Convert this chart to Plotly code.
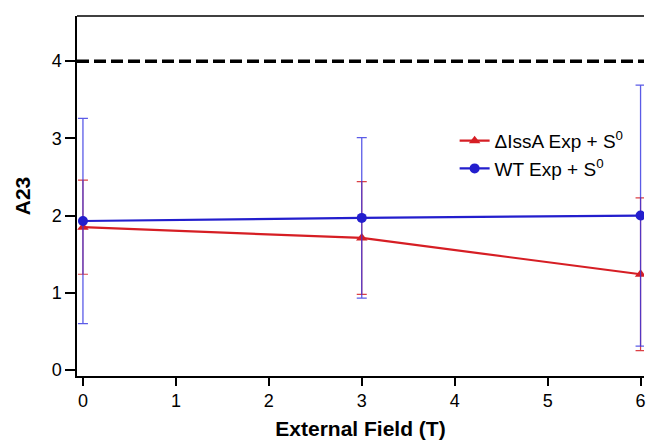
import plotly.graph_objects as go

# External field values (T)
field = [0, 3, 6]

# ΔIssA series
issa_vals = [1.85, 1.71, 1.24]
issa_err = [0.61, 0.73, 0.99]

# WT series
wt_vals = [1.93, 1.97, 2.00]
wt_err = [1.33, 1.04, 1.69]

# Reference level
ref_level = 4

x_ticks = [0, 1, 2, 3, 4, 5, 6]
y_ticks = [0, 1, 2, 3, 4]

RED = "rgb(214,30,36)"
BLUE = "rgb(35,30,205)"

fig = go.Figure()

fig.add_trace(go.Scatter(
    x=field, y=issa_vals,
    mode="lines+markers",
    name="ΔIssA Exp + S<sup>0</sup>",
    line=dict(color=RED, width=2.2),
    marker=dict(symbol="triangle-up", size=10, color=RED),
    error_y=dict(type="data", array=issa_err, visible=True,
                 color="rgba(214,30,36,0.85)", thickness=1.2, width=5),
))

fig.add_trace(go.Scatter(
    x=field, y=wt_vals,
    mode="lines+markers",
    name="WT Exp + S<sup>0</sup>",
    line=dict(color=BLUE, width=2.2),
    marker=dict(symbol="circle", size=10, color=BLUE),
    error_y=dict(type="data", array=wt_err, visible=True,
                 color="rgba(50,50,225,0.8)", thickness=1.3, width=5),
))

# Dashed horizontal reference line
fig.add_shape(type="line", xref="paper", x0=0, x1=1, yref="y",
              y0=ref_level, y1=ref_level,
              line=dict(color="black", width=3.5, dash="12px,5px"),
              layer="below")

# Top frame line
fig.add_shape(type="line", xref="paper", yref="paper",
              x0=0, x1=1, y0=1, y1=1,
              line=dict(color="black", width=1.5))

font_family = "Liberation Sans, Arial, sans-serif"

fig.update_layout(
    width=646, height=440,
    margin=dict(l=77, r=0, t=16, b=64),
    paper_bgcolor="white", plot_bgcolor="white",
    font=dict(family=font_family, color="black"),
    showlegend=True,
    legend=dict(
        x=0.666, y=0.706, xanchor="left", yanchor="top",
        bgcolor="rgba(0,0,0,0)",
        font=dict(size=19, family=font_family, color="black"),
        itemwidth=30, tracegroupgap=0,
    ),
    xaxis=dict(
        range=[-0.064, 6.037],
        tickvals=x_ticks,
        ticks="outside", ticklen=8, tickwidth=1.5, tickcolor="black",
        ticklabeloverflow="allow",
        showline=True, linecolor="black", linewidth=1.5,
        showgrid=False, zeroline=False,
        tickfont=dict(size=18),
        title=dict(text="<b>External Field (T)</b>", font=dict(size=21), standoff=11),
    ),
    yaxis=dict(
        range=[-0.078, 4.585],
        tickvals=y_ticks,
        ticks="outside", ticklen=10, tickwidth=1.5, tickcolor="black",
        showline=True, linecolor="black", linewidth=1.5,
        showgrid=False, zeroline=False,
        tickfont=dict(size=18),
        title=dict(text="<b>A23</b>", font=dict(size=21), standoff=15),
    ),
)

fig.write_html("out.html")
